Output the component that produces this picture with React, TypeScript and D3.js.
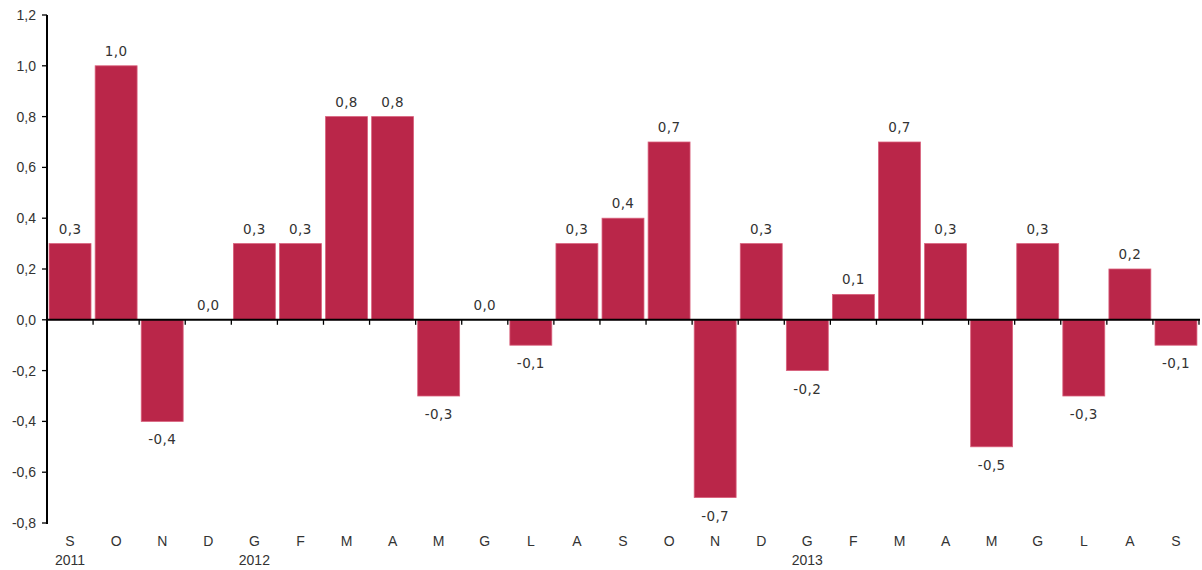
import React from "react";
import * as d3 from "d3";

const months = ["S","O","N","D","G","F","M","A","M","G","L","A","S","O","N","D","G","F","M","A","M","G","L","A","S"];
const values = [0.3,1.0,-0.4,0.0,0.3,0.3,0.8,0.8,-0.3,0.0,-0.1,0.3,0.4,0.7,-0.7,0.3,-0.2,0.1,0.7,0.3,-0.5,0.3,-0.3,0.2,-0.1];
const years = [{ index: 0, label: "2011" }, { index: 4, label: "2012" }, { index: 16, label: "2013" }];
const yTicks = [-0.8,-0.6,-0.4,-0.2,0,0.2,0.4,0.6,0.8,1.0,1.2];

const W = 1202, H = 570;
const left = 47, right = 1199, top = 15, bottom = 523;

export default function App() {
  const x = d3.scaleBand<number>().domain(d3.range(values.length)).range([left, right]).paddingInner(0.09).paddingOuter(0.045);
  const y = d3.scaleLinear().domain([-0.8, 1.2]).range([bottom, top]);
  const step = (right - left) / values.length;
  const fmt = (v: number) => v.toFixed(1).replace(".", ",");
  const y0 = y(0);
  return (
    <svg width={W} height={H} style={{ position: "absolute", left: 0, top: 0 }}>
      <rect x={0} y={0} width={W} height={H} fill="#fff" />
      {values.map((v, i) => (
        <rect key={i} x={x(i)} width={x.bandwidth()} y={Math.min(y(v), y0)} height={Math.abs(y(v) - y0)}
          fill="#BA2649" stroke="#D9607C" strokeWidth={0.8} />
      ))}
      {values.map((v, i) => {
        const cx = (x(i) as number) + x.bandwidth() / 2;
        const ty = v >= 0 ? y(v) - 10 : y(v) + 23;
        return (
          <text key={"l" + i} x={cx} y={ty} textAnchor="middle" fontFamily="DejaVu Sans, Verdana, sans-serif" fontSize={13.5} letterSpacing={0.4} fill="#333">{fmt(v)}</text>
        );
      })}
      <line x1={left} x2={right + 1} y1={y0} y2={y0} stroke="#000" strokeWidth={2} />
      {d3.range(1, values.length + 1).map(k => (
        <line key={"t" + k} x1={left + k * step} x2={left + k * step} y1={y0} y2={y0 + 5} stroke="#000" strokeWidth={1.3} />
      ))}
      <line x1={left} x2={left} y1={top} y2={bottom + 1} stroke="#000" strokeWidth={2} />
      {yTicks.map(t => (
        <g key={"y" + t}>
          <line x1={left - 5} x2={left} y1={y(t)} y2={y(t)} stroke="#000" strokeWidth={1.3} />
          <text x={36} y={y(t) + 5} textAnchor="end" fontFamily="Liberation Sans, Arial, sans-serif" fontSize={14} fill="#333">{fmt(t)}</text>
        </g>
      ))}
      {months.map((m, i) => (
        <text key={"m" + i} x={left + (i + 0.5) * step} y={546} textAnchor="middle" fontFamily="Liberation Sans, Arial, sans-serif" fontSize={14} fill="#333">{m}</text>
      ))}
      {years.map(yr => (
        <text key={yr.label} x={left + (yr.index + 0.5) * step} y={565} textAnchor="middle" fontFamily="Liberation Sans, Arial, sans-serif" fontSize={14} fill="#333">{yr.label}</text>
      ))}
    </svg>
  );
}
